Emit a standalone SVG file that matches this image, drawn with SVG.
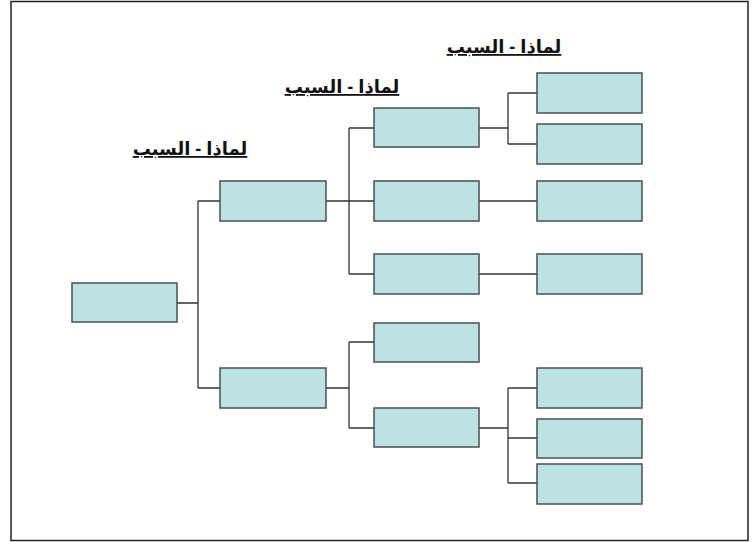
<svg xmlns="http://www.w3.org/2000/svg" width="752" height="542" viewBox="0 0 752 542">
  <style>
    .box { fill: #bce3e1; stroke: #4a4f55; stroke-width: 1.5; }
    .wire { fill: none; stroke: #333; stroke-width: 1.3; }
    .head { font-family: "Liberation Sans", Arial, "DejaVu Sans", sans-serif; font-size: 18px; font-weight: bold; fill: #111; text-decoration: underline; }
  </style>
  <rect x="0" y="0" width="752" height="542" fill="#fff"/>
  <rect x="11" y="1.5" width="737" height="539" fill="none" stroke="#222" stroke-width="1.5"/>

  <!-- column headings -->
  <text class="head" x="190" y="155" text-anchor="middle" direction="rtl">لماذا - السبب</text>
  <text class="head" x="342" y="93" text-anchor="middle" direction="rtl">لماذا - السبب</text>
  <text class="head" x="504" y="53" text-anchor="middle" direction="rtl">لماذا - السبب</text>

  <!-- connectors -->
  <g id="connectors" class="wire">
    <path d="M177 303 H198 M198 201 V388 M198 201 H220 M198 388 H220"/>
    <path d="M326 201 H349 M349 128 V274 M349 128 H374 M349 201 H374 M349 274 H374"/>
    <path d="M326 388 H349 M349 342 V428 M349 342 H374 M349 428 H374"/>
    <path d="M479 128 H508 M508 93 V144 M508 93 H537 M508 144 H537"/>
    <path d="M479 201 H537"/>
    <path d="M479 274 H537"/>
    <path d="M479 428 H508 M508 388 V483 M508 388 H537 M508 438 H537 M508 483 H537"/>
  </g>

  <!-- nodes -->
  <g id="root"><rect class="box" x="72" y="283" width="105" height="39"/></g>
  <g id="l1a"><rect class="box" x="220" y="181" width="106" height="40"/></g>
  <g id="l1b"><rect class="box" x="220" y="368" width="106" height="40"/></g>
  <g id="l2a"><rect class="box" x="374" y="108" width="105" height="39"/></g>
  <g id="l2b"><rect class="box" x="374" y="181" width="105" height="40"/></g>
  <g id="l2c"><rect class="box" x="374" y="254" width="105" height="40"/></g>
  <g id="l2d"><rect class="box" x="374" y="323" width="105" height="39"/></g>
  <g id="l2e"><rect class="box" x="374" y="408" width="105" height="39"/></g>
  <g id="l3a"><rect class="box" x="537" y="73" width="105" height="40"/></g>
  <g id="l3b"><rect class="box" x="537" y="124" width="105" height="40"/></g>
  <g id="l3c"><rect class="box" x="537" y="181" width="105" height="40"/></g>
  <g id="l3d"><rect class="box" x="537" y="254" width="105" height="40"/></g>
  <g id="l3e"><rect class="box" x="537" y="368" width="105" height="40"/></g>
  <g id="l3f"><rect class="box" x="537" y="419" width="105" height="39"/></g>
  <g id="l3g"><rect class="box" x="537" y="464" width="105" height="40"/></g>
</svg>
